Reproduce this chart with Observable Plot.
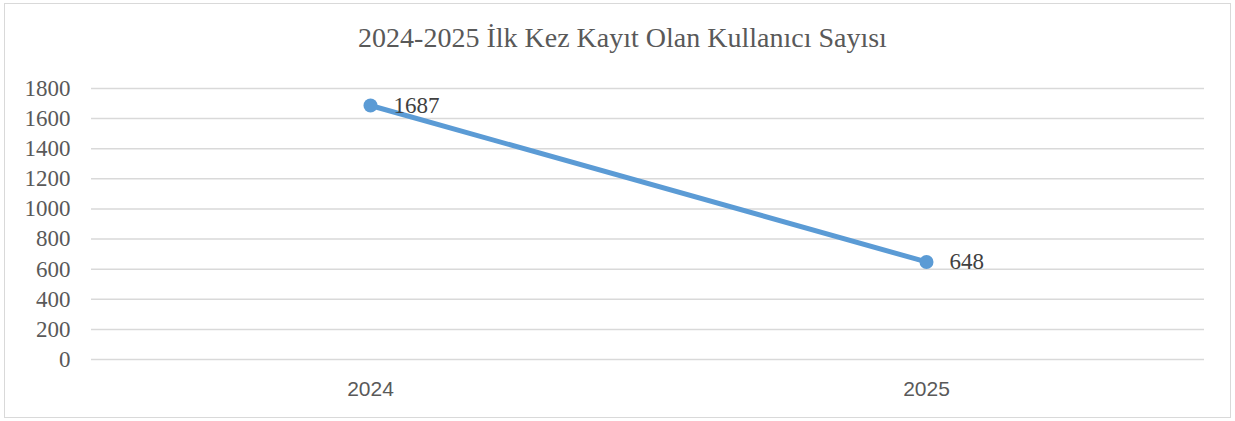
<!DOCTYPE html>
<html><head><meta charset="utf-8">
<script src="https://cdn.jsdelivr.net/npm/d3@7"></script>
<script src="https://cdn.jsdelivr.net/npm/@observablehq/plot@0.6"></script>
<style>
body{margin:0;background:#fff;}
#wrap{position:relative;width:1235px;height:421px;overflow:hidden;}
#frame{position:absolute;left:4px;top:3px;width:1225px;height:413px;border:1.5px solid #d9d9d9;box-sizing:content-box;pointer-events:none;}
#title{position:absolute;left:0;top:0;width:1235px;height:70px;box-sizing:border-box;padding-left:10px;text-align:center;font-family:"Liberation Serif","Times New Roman",serif;font-size:28px;color:#595959;line-height:1;padding-top:24px;}
#chart{position:absolute;left:0;top:70px;}
#chart svg g[aria-label="y-axis tick label"], #chart svg g[aria-label="text"]{font-family:"Liberation Serif","Times New Roman",serif;}
#chart svg g[aria-label="x-axis tick label"]{font-family:"Liberation Sans",Arial,sans-serif;}
</style></head>
<body>
<div id="wrap">
<div id="title">2024-2025 İlk Kez Kayıt Olan Kullanıcı Sayısı</div>
<div id="chart"></div>
<div id="frame"></div>
</div>
<script>
const years = ["2024", "2025"];
const users = [1687, 648];
const yTicks = [0, 200, 400, 600, 800, 1000, 1200, 1400, 1600, 1800];

const data = years.map((y, i) => ({year: y, value: users[i]}));
const serif = "'Liberation Serif', 'Times New Roman', serif";

const chart = Plot.plot({
  width: 1235,
  height: 351,
  marginTop: 18,
  marginBottom: 62,
  marginLeft: 91,
  marginRight: 31,
  style: {fontFamily: serif},
  x: {type: "band", domain: years, padding: 0},
  y: {domain: [0, 1800]},
  marks: [
    Plot.ruleY(yTicks, {stroke: "#d9d9d9", strokeWidth: 1.5}),
    Plot.axisY({ticks: yTicks, tickFormat: d => String(d), tickSize: 0, tickPadding: 21, fontSize: 23, fontFamily: serif, fill: "#595959", label: null}),
    Plot.axisX({tickSize: 0, tickPadding: 22, fontSize: 21, fontFamily: "'Liberation Sans', Arial, sans-serif", fill: "#595959", label: null}),
    Plot.line(data, {x: "year", y: "value", stroke: "#5b9bd5", strokeWidth: 5}),
    Plot.dot(data, {x: "year", y: "value", r: 7, fill: "#5b9bd5"}),
    Plot.text(data, {x: "year", y: "value", text: d => String(d.value), dx: 23, textAnchor: "start", fontSize: 23, fontFamily: serif, fill: "#404040"})
  ]
});
document.getElementById("chart").appendChild(chart);
</script>
</body></html>
